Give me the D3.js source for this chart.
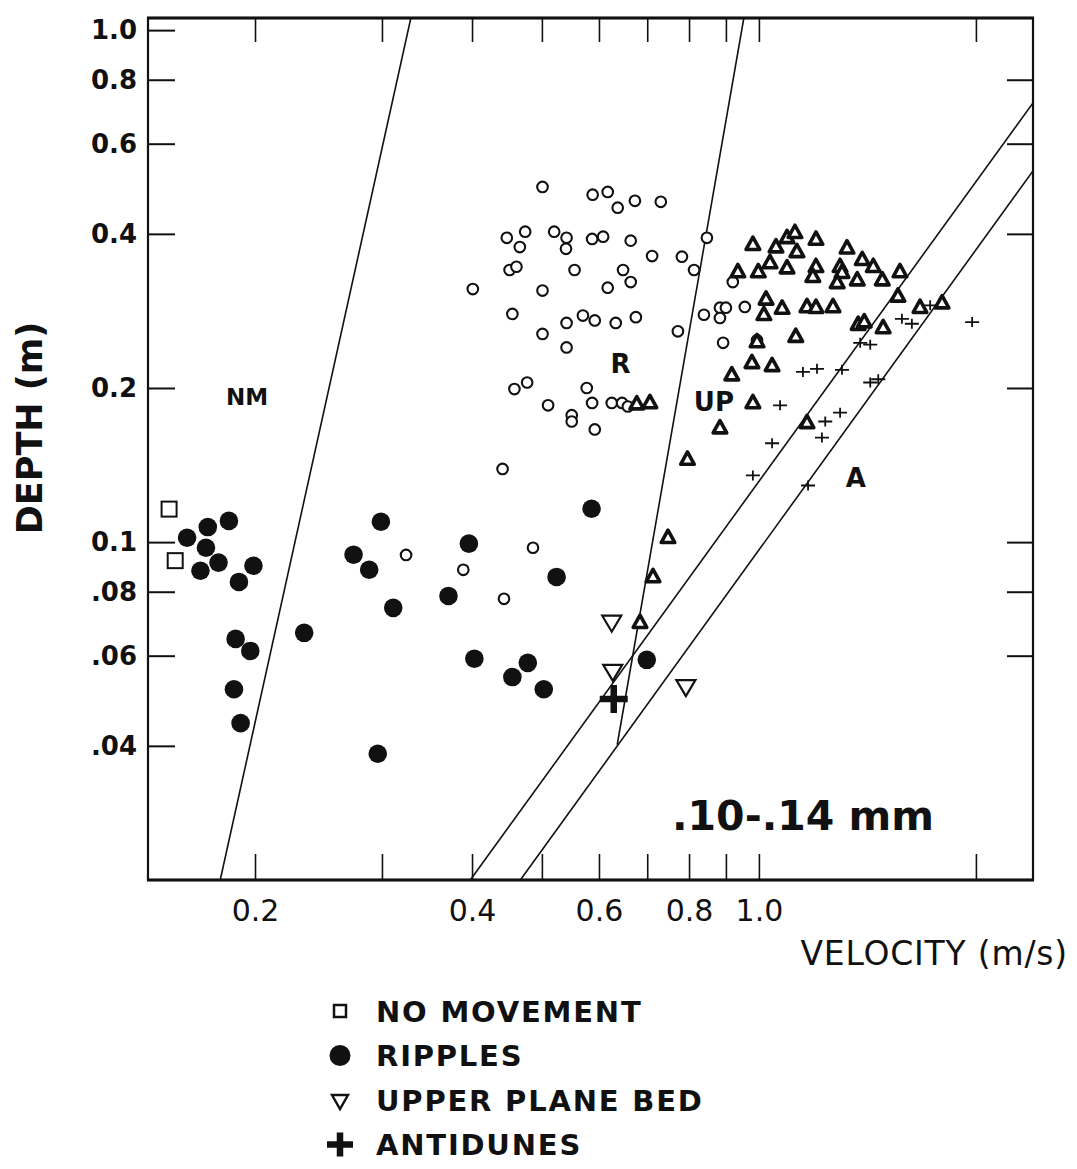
<!DOCTYPE html>
<html>
<head>
<meta charset="utf-8">
<script src="https://cdn.jsdelivr.net/npm/d3@7"></script>
<style>
  body { margin: 0; background: #fff; }
  svg text { font-family: "DejaVu Sans", sans-serif; fill: #111; }
</style>
</head>
<body>
<svg id="chart" width="1077" height="1169"></svg>
<script>
// velocity (m/s), depth (m)
const noMovement = [[0.152, 0.116], [0.155, 0.092]];

const ripples = [
  [0.161, 0.102], [0.172, 0.107], [0.184, 0.110], [0.171, 0.0975], [0.178, 0.0912],
  [0.168, 0.0879], [0.199, 0.0899], [0.190, 0.0836], [0.188, 0.0647], [0.197, 0.0613],
  [0.187, 0.0516], [0.191, 0.0443], [0.234, 0.0665], [0.299, 0.1096], [0.274, 0.0945],
  [0.288, 0.0883], [0.311, 0.0744], [0.296, 0.0386], [0.396, 0.0993], [0.371, 0.0785],
  [0.403, 0.0592], [0.478, 0.0581], [0.455, 0.0545], [0.503, 0.0516], [0.586, 0.1162],
  [0.524, 0.0855], [0.699, 0.0589]
];

const upperPlaneBed = [[0.625, 0.0696], [0.627, 0.0558], [0.792, 0.0521]];
const antidunes = [[0.629, 0.0494]];

// other data sets (open circles, triangles, small crosses)
const ripplesOther = [
  [0.501, 0.494], [0.588, 0.477], [0.617, 0.483], [0.637, 0.450], [0.673, 0.464], [0.731, 0.462],
  [0.447, 0.393], [0.474, 0.404], [0.466, 0.377], [0.520, 0.404], [0.541, 0.393], [0.540, 0.374],
  [0.587, 0.391], [0.608, 0.395], [0.664, 0.388], [0.847, 0.393],
  [0.711, 0.362], [0.782, 0.361], [0.813, 0.340],
  [0.451, 0.340], [0.461, 0.345], [0.555, 0.340], [0.648, 0.340], [0.664, 0.322],
  [0.401, 0.312], [0.501, 0.310], [0.617, 0.314],
  [0.455, 0.279], [0.541, 0.268], [0.570, 0.277], [0.592, 0.271], [0.633, 0.268], [0.675, 0.275],
  [0.501, 0.255], [0.772, 0.258], [0.541, 0.240],
  [0.458, 0.199], [0.477, 0.205], [0.577, 0.200],
  [0.510, 0.185], [0.587, 0.187], [0.625, 0.187], [0.646, 0.187], [0.658, 0.184],
  [0.550, 0.177], [0.550, 0.172], [0.592, 0.166],
  [0.920, 0.322], [0.839, 0.278], [0.883, 0.287], [0.900, 0.287], [0.883, 0.274],
  [0.956, 0.288], [0.892, 0.245], [0.994, 0.248],
  [0.441, 0.139], [0.486, 0.0975], [0.389, 0.0883], [0.443, 0.0775], [0.324, 0.0944]
];

const upperPlaneOther = [
  [0.677, 0.186], [0.706, 0.187],
  [0.981, 0.381], [1.056, 0.377], [1.094, 0.393], [1.122, 0.402], [1.129, 0.369], [1.200, 0.390],
  [1.325, 0.375], [1.391, 0.356], [1.441, 0.345], [1.483, 0.325], [1.569, 0.337],
  [0.935, 0.337], [0.998, 0.337], [1.036, 0.351], [1.094, 0.343], [1.200, 0.345], [1.188, 0.330],
  [1.296, 0.345], [1.304, 0.336], [1.284, 0.321], [1.369, 0.325],
  [1.023, 0.298], [1.016, 0.278], [1.077, 0.286], [1.166, 0.288], [1.200, 0.287], [1.267, 0.288],
  [1.559, 0.302], [1.673, 0.287], [1.795, 0.293],
  [1.373, 0.266], [1.400, 0.269], [1.487, 0.262], [1.125, 0.252], [0.994, 0.246],
  [0.978, 0.224], [1.043, 0.221], [0.917, 0.212], [0.981, 0.187], [0.883, 0.167], [1.166, 0.171],
  [0.796, 0.145], [0.748, 0.102], [0.713, 0.0855], [0.684, 0.0696]
];

const antidunesOther = [
  [1.151, 0.215], [1.204, 0.218], [1.304, 0.217], [1.382, 0.245], [1.427, 0.243], [1.427, 0.205],
  [1.464, 0.208], [1.579, 0.273], [1.630, 0.267], [1.728, 0.290], [1.976, 0.269], [1.070, 0.185],
  [1.236, 0.172], [1.296, 0.179], [1.223, 0.160], [1.043, 0.156], [0.981, 0.135], [1.170, 0.129]
];

// bed-form boundaries
const lineNM = [[0.179, 0.0219], [0.329, 1.056]];
const lineRUP = [[0.636, 0.0402], [0.953, 1.056]];
const lineUPA = [[0.398, 0.0219], [2.40, 0.721]];
const lineA = [[0.467, 0.0219], [2.40, 0.531]];

const regionLabels = [['NM', 0.195, 0.185], ['R', 0.643, 0.214], ['UP', 0.866, 0.18], ['A', 1.363, 0.128]];

const xTicks = [0.2, 0.3, 0.4, 0.5, 0.6, 0.7, 0.8, 0.9, 1.0, 2.0];
const xLabels = { 0.2: '0.2', 0.4: '0.4', 0.6: '0.6', 0.8: '0.8', 1: '1.0' };
const yTicks = [1.0, 0.8, 0.6, 0.4, 0.2, 0.1, 0.08, 0.06, 0.04];
const yLabels = ['1.0', '0.8', '0.6', '0.4', '0.2', '0.1', '.08', '.06', '.04'];
const yTicksRight = [0.8, 0.6, 0.4, 0.2, 0.1, 0.08, 0.06];

const legendItems = ['NO MOVEMENT', 'RIPPLES', 'UPPER PLANE BED', 'ANTIDUNES'];

const plotLeft = 148, plotRight = 1033, plotTop = 18, plotBottom = 880;
const ink = '#111';

const x = d3.scaleLog().domain([0.1421, 2.40]).range([plotLeft, plotRight]);
const y = d3.scaleLog().domain([0.02188, 1.056]).range([plotBottom, plotTop]);

const svg = d3.select('#chart');

svg.append('defs').append('clipPath').attr('id', 'plot')
  .append('rect').attr('x', plotLeft).attr('y', plotTop)
  .attr('width', plotRight - plotLeft).attr('height', plotBottom - plotTop);

// axes, ticks pointing inward
const axisStyle = (g) => {
  g.select('.domain').remove();
  g.selectAll('line').attr('stroke', ink).attr('stroke-width', 1.6);
};

svg.append('g')
  .attr('transform', `translate(0, ${plotBottom})`)
  .call(d3.axisBottom(x).tickValues(xTicks).tickSize(-26).tickPadding(20)
    .tickFormat((d) => xLabels[d] || ''))
  .call(axisStyle)
  .call((g) => g.selectAll('text').attr('font-size', 30).attr('font-family', 'DejaVu Sans').attr('fill', ink));

svg.append('g')
  .attr('transform', `translate(0, ${plotTop})`)
  .call(d3.axisTop(x).tickValues(xTicks).tickSize(-24).tickFormat(''))
  .call(axisStyle);

svg.append('g')
  .attr('transform', `translate(${plotLeft}, 0)`)
  .call(d3.axisLeft(y).tickValues(yTicks).tickSize(-27).tickPadding(11)
    .tickFormat((d, i) => yLabels[i]))
  .call(axisStyle)
  .call((g) => g.selectAll('line').attr('stroke-width', 2))
  .call((g) => g.selectAll('text').attr('font-size', 26).attr('font-weight', 'bold')
    .attr('font-family', 'DejaVu Sans').attr('fill', ink));

svg.append('g')
  .attr('transform', `translate(${plotRight}, 0)`)
  .call(d3.axisRight(y).tickValues(yTicksRight).tickSize(-26).tickFormat(''))
  .call(axisStyle)
  .call((g) => g.selectAll('line').attr('stroke-width', 2));

// frame
svg.append('rect')
  .attr('x', plotLeft).attr('y', plotTop)
  .attr('width', plotRight - plotLeft).attr('height', plotBottom - plotTop)
  .attr('fill', 'none').attr('stroke', ink).attr('stroke-width', 2.2);
[plotTop, plotBottom].forEach((yy) => {
  svg.append('line').attr('x1', plotLeft - 1).attr('x2', plotRight + 1).attr('y1', yy).attr('y2', yy)
    .attr('stroke', ink).attr('stroke-width', 3.2);
});

// boundary lines
const line = d3.line().x((d) => x(d[0])).y((d) => y(d[1]));
svg.append('g').attr('clip-path', 'url(#plot)')
  .selectAll('path')
  .data([lineNM, lineRUP, lineUPA, lineA])
  .enter()
  .append('path')
  .attr('d', line)
  .attr('fill', 'none')
  .attr('stroke', ink)
  .attr('stroke-width', 1.6);

// markers
const marks = svg.append('g');

marks.selectAll('circle.open')
  .data(ripplesOther)
  .enter()
  .append('circle')
  .attr('class', 'open')
  .attr('cx', (d) => x(d[0]))
  .attr('cy', (d) => y(d[1]))
  .attr('r', 5.3)
  .attr('fill', '#fff')
  .attr('stroke', ink)
  .attr('stroke-width', 2.1);

marks.selectAll('path.tri')
  .data(upperPlaneOther)
  .enter()
  .append('path')
  .attr('class', 'tri')
  .attr('d', 'M0,-7.5L6.8,4.8L-6.8,4.8Z')
  .attr('transform', (d) => `translate(${x(d[0])}, ${y(d[1])})`)
  .attr('fill', '#fff')
  .attr('stroke', ink)
  .attr('stroke-width', 3.6)
  .attr('stroke-linejoin', 'round');

marks.selectAll('path.cross')
  .data(antidunesOther)
  .enter()
  .append('path')
  .attr('class', 'cross')
  .attr('d', 'M-7,0H7M0,-5V5')
  .attr('transform', (d) => `translate(${x(d[0])}, ${y(d[1])})`)
  .attr('stroke', ink)
  .attr('stroke-width', 1.8);

marks.selectAll('rect.nm')
  .data(noMovement)
  .enter()
  .append('rect')
  .attr('class', 'nm')
  .attr('x', (d) => x(d[0]) - 7.5)
  .attr('y', (d) => y(d[1]) - 7.5)
  .attr('width', 15)
  .attr('height', 15)
  .attr('fill', '#fff')
  .attr('stroke', ink)
  .attr('stroke-width', 2);

marks.selectAll('circle.rip')
  .data(ripples)
  .enter()
  .append('circle')
  .attr('class', 'rip')
  .attr('cx', (d) => x(d[0]))
  .attr('cy', (d) => y(d[1]))
  .attr('r', 9.3)
  .attr('fill', ink);

marks.selectAll('path.upb')
  .data(upperPlaneBed)
  .enter()
  .append('path')
  .attr('class', 'upb')
  .attr('d', 'M-9.5,-7L9.5,-7L0,9Z')
  .attr('transform', (d) => `translate(${x(d[0])}, ${y(d[1])})`)
  .attr('fill', '#fff')
  .attr('stroke', ink)
  .attr('stroke-width', 2.2);

marks.selectAll('path.ad')
  .data(antidunes)
  .enter()
  .append('path')
  .attr('class', 'ad')
  .attr('d', 'M-14,0H14M0,-14V14')
  .attr('transform', (d) => `translate(${x(d[0])}, ${y(d[1])})`)
  .attr('stroke', ink)
  .attr('stroke-width', 6.5);

// region labels
svg.append('g')
  .selectAll('text')
  .data(regionLabels)
  .enter()
  .append('text')
  .text((d) => d[0])
  .attr('x', (d) => x(d[1]))
  .attr('y', (d) => y(d[2]))
  .attr('text-anchor', 'middle')
  .attr('font-weight', 'bold')
  .attr('font-size', (d) => (d[0] === 'NM' ? 23 : 26));

svg.append('text')
  .text('.10-.14 mm')
  .attr('x', 672)
  .attr('y', 830)
  .attr('font-weight', 'bold')
  .attr('font-size', 41);

// axis titles
svg.append('text')
  .text('DEPTH (m)')
  .attr('transform', 'translate(42, 428) rotate(-90)')
  .attr('text-anchor', 'middle')
  .attr('font-family', '"Liberation Sans", Arial, sans-serif')
  .attr('font-weight', 'bold')
  .attr('font-size', 35);

svg.append('text')
  .text('VELOCITY (m/s)')
  .attr('x', 1068)
  .attr('y', 965)
  .attr('text-anchor', 'end')
  .attr('font-size', 33)
  .attr('letter-spacing', 0.8);

// legend
const legend = svg.append('g');
const rowY = (i) => 1011 + i * 44.5;

legend.append('rect').attr('x', 334).attr('y', rowY(0) - 6).attr('width', 12).attr('height', 12)
  .attr('fill', '#fff').attr('stroke', ink).attr('stroke-width', 2.5);
legend.append('circle').attr('cx', 340).attr('cy', rowY(1)).attr('r', 10.5).attr('fill', ink);
legend.append('path').attr('d', 'M-8,-6L8,-6L0,8Z')
  .attr('transform', `translate(340, ${rowY(2) + 1})`)
  .attr('fill', '#fff').attr('stroke', ink).attr('stroke-width', 2.4);
legend.append('path').attr('d', 'M-13,0H13M0,-12V12')
  .attr('transform', `translate(340, ${rowY(3)})`)
  .attr('stroke', ink).attr('stroke-width', 6.5);

legend.selectAll('text')
  .data(legendItems)
  .enter()
  .append('text')
  .text((d) => d)
  .attr('x', 376)
  .attr('y', (d, i) => rowY(i) + 10.5)
  .attr('font-weight', 'bold')
  .attr('font-size', 29)
  .attr('letter-spacing', 1.8);
</script>
</body>
</html>
